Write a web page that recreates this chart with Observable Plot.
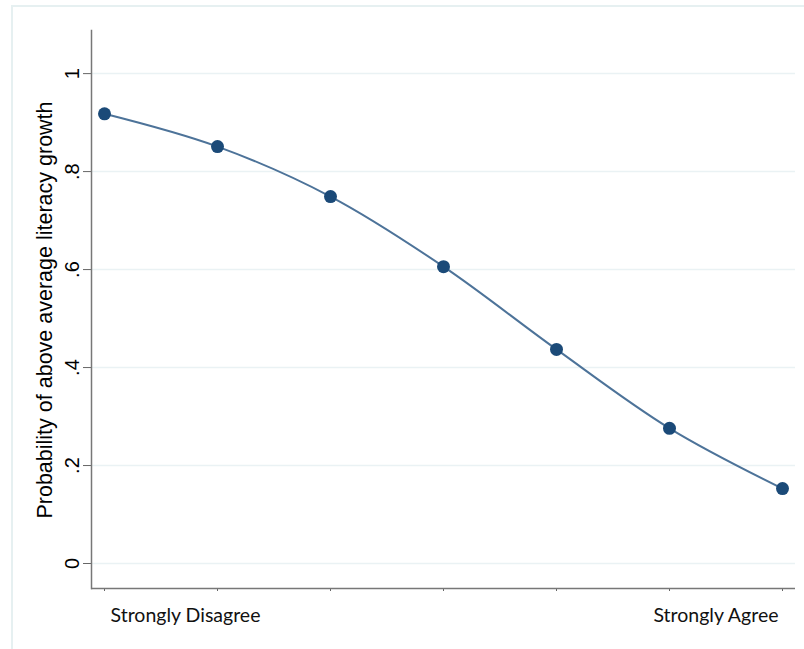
<!DOCTYPE html>
<html>
<head>
<meta charset="utf-8">
<script src="https://cdn.jsdelivr.net/npm/d3@7"></script>
<script src="https://cdn.jsdelivr.net/npm/@observablehq/plot@0.6"></script>
<style>
  html, body { margin: 0; padding: 0; background: #fff; }
  #wrap { position: relative; width: 804px; height: 649px; overflow: hidden; }
  #border { position: absolute; left: 11px; top: 5px; width: 900px; height: 700px;
            border-left: 2px solid #e6f0f1; border-top: 2px solid #e6f0f1; pointer-events: none; }
  svg { display: block; }
</style>
</head>
<body>
<div id="wrap"><div id="border"></div></div>
<script>
const levels = [1, 2, 3, 4, 5, 6, 7];
const probs = [0.918, 0.851, 0.749, 0.606, 0.437, 0.276, 0.153];
const yTicks = [0, 0.2, 0.4, 0.6, 0.8, 1];
const yTickLabels = ["0", ".2", ".4", ".6", ".8", "1"];
const endLabels = ["Strongly Disagree", "Strongly Agree"];
const endLevels = [1, 7];

const data = levels.map((x, i) => ({x, y: probs[i]}));
const yMin = -0.051, yMax = 1.088;

const chart = Plot.plot({
  width: 804,
  height: 649,
  marginLeft: 91,
  marginRight: 9,
  marginTop: 30,
  marginBottom: 61,
  style: {fontFamily: "'Liberation Sans', Arial, sans-serif", fontSize: "18px", color: "#000", background: "transparent"},
  x: {domain: [1, 7], insetLeft: 13, insetRight: 13, axis: null},
  y: {domain: [yMin, yMax], axis: null},
  marks: [
    Plot.ruleY(yTicks, {stroke: "#eaf2f4", strokeWidth: 1.5}),
    Plot.axisY(yTicks, {
      tickFormat: (d) => yTickLabels[yTicks.indexOf(d)],
      tickSize: 8, tickPadding: 5, tickRotate: -90, stroke: "#666",
      fontSize: 20, label: null
    }),
    Plot.axisX(levels, {tickSize: 3, tickFormat: () => "", stroke: "#666", label: null}),
    Plot.frame({anchor: "left", stroke: "#777", strokeWidth: 1.5}),
    Plot.ruleY([yMin], {stroke: "#777", strokeWidth: 1.5}),
    Plot.line(data, {x: "x", y: "y", stroke: "#4d7399", strokeWidth: 2, curve: "catmull-rom"}),
    Plot.dot(data, {x: "x", y: "y", r: 6.5, fill: "#1b4a78", stroke: "none"}),
    Plot.text([endLabels[0]], {x: [endLevels[0]], y: [yMin], text: (d) => d, textAnchor: "start",
      dx: 6, dy: 27, fontFamily: "Lato, 'Open Sans', sans-serif", fontSize: 19.5, fill: "#111"}),
    Plot.text([endLabels[1]], {x: [endLevels[1]], y: [yMin], text: (d) => d, textAnchor: "end",
      dx: -4, dy: 27, fontFamily: "Lato, 'Open Sans', sans-serif", fontSize: 19.5, fill: "#111"})
  ]
});
document.getElementById("wrap").prepend(chart);

// y-axis title
const svg = d3.select(chart);
svg.append("text")
  .attr("transform", "translate(52,310) rotate(-90)")
  .attr("text-anchor", "middle")
  .style("font-family", "'Liberation Sans', Arial, sans-serif")
  .style("font-size", "21.5px")
  .text("Probability of above average literacy growth");
</script>
</body>
</html>
